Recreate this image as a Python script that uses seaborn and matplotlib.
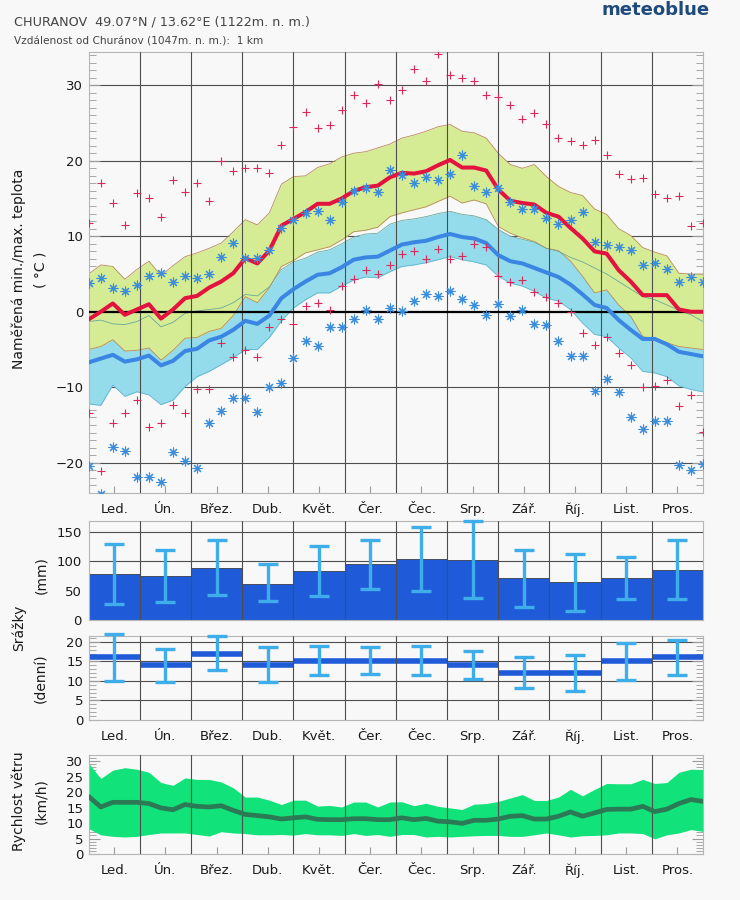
import numpy as np
import seaborn as sns
import matplotlib.pyplot as plt
from matplotlib.ticker import MultipleLocator

sns.set_style("ticks")
plt.rcParams['font.family'] = ['DejaVu Sans']

months = ["Led.", "Ún.", "Břez.", "Dub.", "Květ.", "Čer.", "Čec.", "Srp.", "Zář.", "Říj.", "List.", "Pros."]
weeks = np.arange(52)

# weekly temperatures (°C)
max_mean = [-1.0, 0.0, 1.1, -0.4, 0.3, 1.0, -0.9, 0.3, 1.8, 2.1, 3.2, 4.0, 5.1, 7.1, 6.4, 8.1,
            11.4, 12.3, 13.2, 14.3, 14.3, 15.0, 16.0, 16.5, 16.7, 17.8, 18.4, 18.3, 18.6, 19.4,
            20.1, 19.1, 19.1, 18.7, 16.2, 14.7, 14.4, 14.2, 13.1, 12.6, 11.1, 9.7, 8.0, 7.7,
            5.5, 4.0, 2.2, 2.2, 2.2, 0.3, 0.0, 0.0]
max_upper = [5.0, 6.2, 6.0, 4.3, 5.6, 6.7, 4.8, 6.1, 7.3, 7.8, 8.4, 9.1, 10.6, 12.2, 11.5, 13.1,
             16.9, 17.9, 18.0, 19.1, 19.6, 20.5, 21.0, 21.2, 21.7, 22.2, 23.0, 23.4, 23.9, 24.5,
             24.8, 23.9, 23.7, 23.0, 21.0, 19.5, 19.0, 19.5, 17.9, 16.6, 15.8, 15.4, 13.6, 12.9,
             11.0, 10.1, 8.5, 7.9, 7.4, 5.1, 5.0, 5.0]
max_lower = [-5.0, -4.6, -3.7, -5.2, -5.1, -4.8, -6.4, -5.1, -3.5, -3.4, -2.6, -2.2, -0.5, 2.0, 1.2, 3.2,
             6.0, 6.8, 7.8, 8.2, 8.6, 9.5, 10.6, 10.8, 11.2, 12.6, 13.1, 13.5, 13.9, 14.6,
             15.3, 14.4, 14.8, 14.3, 11.3, 10.4, 9.8, 9.3, 8.4, 8.1, 6.7, 4.7, 2.5, 2.9,
             0.9, -0.6, -3.3, -3.6, -4.1, -4.6, -4.8, -5.0]
min_mean = [-6.7, -6.2, -5.7, -6.6, -6.3, -5.8, -7.1, -6.5, -5.2, -4.9, -3.8, -3.3, -2.4, -1.2, -1.6, -0.5,
            1.8, 3.0, 4.0, 4.9, 5.1, 5.9, 6.9, 7.2, 7.3, 8.1, 8.9, 9.2, 9.4, 9.9,
            10.3, 9.9, 9.7, 9.1, 7.5, 6.7, 6.4, 5.8, 5.2, 4.6, 3.6, 2.3, 0.9, 0.5,
            -1.1, -2.4, -3.6, -3.6, -4.3, -5.3, -5.6, -5.9]
min_upper = [-1.3, -1.1, -1.6, -1.7, -1.3, -0.5, -2.0, -1.4, -0.2, 0.1, 0.3, 0.5, 1.2, 2.3, 2.1, 3.3,
             5.6, 6.6, 7.1, 7.9, 8.2, 9.0, 9.9, 10.3, 10.4, 11.6, 12.1, 12.3, 12.6, 13.0,
             13.3, 12.9, 12.7, 12.2, 10.9, 10.0, 9.6, 9.2, 8.4, 8.0, 7.2, 6.6, 5.8, 5.0,
             4.0, 3.0, 2.0, 1.6, 0.9, 0.2, -0.4, -1.3]
min_lower = [-12.2, -12.4, -9.7, -11.2, -10.6, -11.0, -12.3, -11.7, -9.9, -8.6, -7.9, -7.0, -6.1, -5.0, -5.0, -3.4,
             -1.2, 0.5, 1.6, 2.5, 2.5, 3.4, 4.2, 4.6, 4.5, 5.3, 6.0, 6.2, 6.5, 6.9,
             7.3, 6.9, 6.6, 6.2, 4.7, 3.8, 3.4, 2.7, 1.8, 1.4, 0.3, -1.5, -3.0, -3.3,
             -4.8, -6.1, -7.9, -8.1, -8.6, -9.8, -10.3, -10.6]
# extremes
max_hi = [11.8, 17.0, 14.4, 11.5, 15.7, 15.1, 12.5, 17.5, 15.9, 17.1, 14.7, 19.9, 18.6, 19.0, 19.0, 18.4,
          22.1, 24.5, 26.4, 24.3, 24.7, 26.7, 28.7, 27.7, 30.1, 28.0, 29.4, 32.2, 30.6, 34.2,
          31.3, 30.9, 30.6, 28.7, 28.4, 27.4, 25.5, 26.3, 24.9, 23.0, 22.6, 22.1, 22.8, 20.7,
          18.3, 17.6, 17.7, 15.6, 15.0, 15.3, 11.3, 11.8]
max_lo = [-13.4, -21.1, -14.7, -13.4, -11.7, -15.2, -14.7, -12.3, -13.4, -10.2, -10.2, -4.2, -6.0, -5.0, -6.0, -2.0,
          -1.0, -1.6, 0.8, 1.2, 0.3, 3.4, 4.3, 5.5, 5.0, 6.2, 7.7, 8.1, 7.0, 8.3,
          7.0, 7.4, 9.0, 8.6, 4.7, 3.9, 4.2, 2.6, 1.9, 1.2, 0.0, -2.8, -4.4, -3.3,
          -5.4, -7.0, -10.0, -9.8, -9.1, -12.5, -11.0, -15.9]
min_hi = [3.8, 4.5, 3.2, 2.8, 3.6, 4.7, 5.1, 3.9, 4.8, 4.5, 5.0, 7.3, 9.1, 7.1, 7.1, 8.2,
          11.1, 12.1, 13.1, 13.4, 12.1, 14.6, 16.0, 16.4, 15.9, 18.8, 18.1, 17.0, 17.8, 17.5,
          18.3, 20.7, 16.7, 15.9, 16.4, 14.5, 13.6, 13.6, 12.4, 11.6, 12.2, 13.2, 9.3, 8.9,
          8.6, 8.2, 6.2, 6.4, 5.7, 4.0, 4.6, 3.9]
min_lo = [-20.4, -24.1, -17.9, -18.5, -21.9, -21.9, -22.6, -18.6, -19.7, -20.7, -14.7, -13.1, -11.4, -11.4, -13.3, -10.0,
          -9.4, -6.1, -3.9, -4.5, -2.0, -2.0, -1.0, 0.2, -1.0, 0.5, 0.1, 1.4, 2.4, 2.1,
          2.8, 1.7, 0.9, -0.4, 1.0, -0.6, 0.3, -1.6, -1.8, -3.9, -5.8, -5.8, -10.5, -8.9,
          -10.6, -13.9, -15.5, -14.5, -14.5, -20.3, -20.9, -20.2]

# monthly precipitation (mm)
precip = [78, 75, 89, 62, 83, 95, 104, 102, 71, 65, 71, 85]
precip_hi = [130, 119, 137, 95, 126, 137, 158, 168, 119, 113, 107, 137]
precip_lo = [27, 31, 43, 32, 41, 52, 50, 37, 22, 16, 36, 35]

# wet days per month
wet_days = [16, 14, 17, 14, 15, 15, 15, 14, 12, 12, 15, 16]
wet_hi = [22.0, 18.2, 21.4, 18.6, 18.9, 18.6, 18.9, 17.6, 16.1, 16.6, 19.8, 20.6]
wet_lo = [10.1, 9.8, 12.7, 9.6, 11.4, 11.8, 11.4, 10.5, 8.1, 7.5, 10.3, 11.5]

# weekly wind speed (km/h)
wind_mean = [18.6, 15.2, 16.7, 16.7, 16.7, 16.3, 14.9, 14.3, 16.0, 15.4, 15.2, 15.6, 14.1, 12.8, 12.4, 12.0,
             11.3, 11.7, 12.0, 11.2, 11.1, 11.1, 11.4, 11.4, 11.1, 11.1, 11.7, 11.1, 11.5, 10.6,
             10.4, 9.9, 10.9, 10.9, 11.3, 12.2, 12.4, 11.3, 11.3, 12.2, 13.6, 12.2, 13.3, 14.4,
             14.5, 14.5, 15.4, 13.7, 14.5, 16.3, 17.6, 17.0]
wind_hi = [29.3, 24.4, 27.1, 27.9, 27.4, 26.4, 23.1, 22.2, 24.6, 24.1, 24.1, 23.3, 21.4, 18.4, 18.4, 17.4,
           16.0, 17.4, 17.4, 15.5, 15.7, 15.2, 16.8, 16.8, 15.2, 16.8, 16.9, 15.6, 16.4, 15.4,
           14.9, 14.4, 16.1, 16.3, 17.0, 18.1, 19.2, 17.3, 17.3, 18.4, 20.9, 18.8, 20.9, 22.8,
           22.7, 22.7, 24.1, 22.8, 23.1, 26.4, 27.4, 27.3]
wind_lo = [8.2, 6.2, 5.7, 5.5, 5.7, 6.3, 6.8, 6.8, 6.8, 6.3, 5.8, 7.2, 6.8, 6.6, 6.2, 6.2,
           6.3, 6.1, 6.6, 6.2, 6.2, 6.0, 6.6, 6.0, 6.3, 5.7, 6.3, 6.3, 5.5, 5.7,
           5.5, 5.7, 5.9, 6.0, 6.0, 5.7, 5.7, 6.2, 6.8, 6.2, 5.5, 5.9, 6.0, 6.2,
           6.8, 6.8, 6.6, 4.9, 6.2, 6.8, 7.9, 7.3]

bg = "#f8f8f8"
grid_c = "#4d4d4d"
tick_c = "#9a9a9a"

fig = plt.figure(figsize=(7.4, 9.0), dpi=100, facecolor=bg)
L, W = 88.7 / 740, 614.3 / 740
ax_t = fig.add_axes([L, 1 - 493 / 900, W, 441 / 900])
ax_p = fig.add_axes([L, 1 - 620 / 900, W, 99 / 900])
ax_w = fig.add_axes([L, 1 - 720 / 900, W, 84 / 900])
ax_v = fig.add_axes([L, 1 - 854 / 900, W, 99 / 900])

wk = 51 / 12  # weeks per month on the weekly axis
wk_bounds = [k * wk for k in range(1, 12)]
wk_centres = [k * wk + wk / 2 for k in range(12)]
mo_bounds = [k + 0.5 for k in range(11)]

for ax in (ax_t, ax_p, ax_w, ax_v):
    ax.set_facecolor(bg)
    for s in ax.spines.values():
        s.set_color("#b5b5b5")
        s.set_linewidth(0.8)
    ax.tick_params(labelsize=9.5, labelcolor="#1a1a1a")

# --- temperature
ax = ax_t
for v in [-20, -10, 10, 20, 30]:
    ax.axhline(v, color=grid_c, lw=0.8, zorder=0.5)
ax.fill_between(weeks, min_lower, min_upper, color="#94dcec", lw=0, zorder=1)
ax.plot(weeks, min_lower, color="#62b4cf", lw=0.6, zorder=1.1)
ax.fill_between(weeks, max_lower, max_upper, color="#d6ec94", lw=0, zorder=2)
ax.plot(weeks, max_upper, color="#b88a5c", lw=0.6, zorder=2.1)
ax.plot(weeks, max_lower, color="#b88a5c", lw=0.6, zorder=2.1)
ax.plot(weeks, min_upper, color="#6aa89a", lw=0.6, zorder=2.2)
for x in wk_bounds:
    ax.axvline(x, color=grid_c, lw=0.8, zorder=3)
ax.axhline(0, color="black", lw=1.6, zorder=4)
sns.lineplot(x=weeks, y=min_mean, color="#3a86e2", lw=2.9, ax=ax, zorder=5)
sns.lineplot(x=weeks, y=max_mean, color="#e3123f", lw=2.9, ax=ax, zorder=5)
sns.scatterplot(x=weeks, y=max_hi, marker="+", s=40, color="#d9285a", linewidth=0.8, ax=ax, zorder=6)
sns.scatterplot(x=weeks, y=max_lo, marker="+", s=40, color="#d9285a", linewidth=0.8, ax=ax, zorder=6)
sns.scatterplot(x=weeks, y=min_hi, marker=(8, 2, 0), s=42, color="#3a8ddb", linewidth=0.8, ax=ax, zorder=6)
sns.scatterplot(x=weeks, y=min_lo, marker=(8, 2, 0), s=42, color="#3a8ddb", linewidth=0.8, ax=ax, zorder=6)
ax.set_xlim(0, 51)
ax.set_ylim(-24, 34.4)
ax.set_yticks([-20, -10, 0, 10, 20, 30])
ax.yaxis.set_minor_locator(MultipleLocator(1))
ax.tick_params(axis="y", which="both", direction="in", left=True, right=True, color=tick_c, pad=4)
ax.tick_params(axis="y", which="major", length=8)
ax.tick_params(axis="y", which="minor", length=5)
ax.set_xticks(wk_centres)
ax.set_xticklabels(months)
ax.tick_params(axis="x", direction="in", length=5, color=tick_c, pad=7)
ax.set_xlabel("")
ax.set_ylabel("")

# --- precipitation
ax = ax_p
for v in [50, 100, 150]:
    ax.axhline(v, color=grid_c, lw=0.8, zorder=0.5)
sns.barplot(x=months, y=precip, color="#1f5bd8", width=1.0, saturation=1, errorbar=None,
            edgecolor="#2a2a2a", linewidth=0.5, ax=ax, zorder=2)
pos = np.arange(12)
ax.errorbar(pos, precip, yerr=[np.subtract(precip, precip_lo), np.subtract(precip_hi, precip)],
            fmt="none", ecolor="#3eaeea", elinewidth=2.4, capsize=7, capthick=2.4, zorder=4, clip_on=False)
for x in mo_bounds:
    ax.axvline(x, color=grid_c, lw=0.8, zorder=3)
ax.set_xlim(-0.5, 11.5)
ax.set_ylim(0, 168.5)
ax.set_yticks([0, 50, 100, 150])
ax.tick_params(axis="y", length=0, pad=5)
ax.tick_params(axis="x", length=0, labelbottom=False)
ax.set_xlabel("")
ax.set_ylabel("")

# --- wet days
ax = ax_w
for v in [5, 10, 15, 20]:
    ax.axhline(v, color=grid_c, lw=0.8, zorder=0.5)
ax.hlines(wet_days, pos - 0.5, pos + 0.5, color="#1f5bd8", lw=4, zorder=2)
ax.errorbar(pos, wet_days, yerr=[np.subtract(wet_days, wet_lo), np.subtract(wet_hi, wet_days)],
            fmt="none", ecolor="#3eaeea", elinewidth=2.4, capsize=7, capthick=2.4, zorder=4, clip_on=False)
for x in mo_bounds:
    ax.axvline(x, color=grid_c, lw=0.8, zorder=3)
ax.set_xlim(-0.5, 11.5)
ax.set_ylim(0, 21.5)
ax.set_yticks([0, 5, 10, 15, 20])
ax.yaxis.set_minor_locator(MultipleLocator(1))
ax.tick_params(axis="y", which="both", direction="in", left=True, right=True, color=tick_c, pad=4)
ax.tick_params(axis="y", which="major", length=8)
ax.tick_params(axis="y", which="minor", length=5)
ax.set_xticks(pos)
ax.set_xticklabels(months)
ax.tick_params(axis="x", direction="in", length=0, pad=7)

# --- wind
ax = ax_v
ax.fill_between(weeks, wind_lo, wind_hi, color="#12e27a", lw=0, zorder=1)
sns.lineplot(x=weeks, y=wind_mean, color="#2b7a55", lw=3.4, ax=ax, zorder=4)
for x in wk_bounds:
    ax.axvline(x, color=grid_c, lw=0.8, zorder=3)
ax.set_xlim(0, 51)
ax.set_ylim(0, 32)
ax.set_yticks([0, 5, 10, 15, 20, 25, 30])
ax.yaxis.set_minor_locator(MultipleLocator(1))
ax.tick_params(axis="y", which="both", direction="in", left=True, right=True, color=tick_c, pad=4)
ax.tick_params(axis="y", which="major", length=8)
ax.tick_params(axis="y", which="minor", length=5)
ax.set_xticks(wk_centres)
ax.set_xticklabels(months)
ax.tick_params(axis="x", direction="in", length=5, color=tick_c, pad=7)
ax.set_xlabel("")
ax.set_ylabel("")

# --- texts
fig.text(14 / 740, 1 - 22 / 900, "CHURANOV  49.07°N / 13.62°E (1122m. n. m.)",
         fontsize=9.2, color="#444444", va="center")
fig.text(14 / 740, 1 - 41 / 900, "Vzdálenost od Churánov (1047m. n. m.):  1 km",
         fontsize=7.6, color="#444444", va="center")
fig.text(710 / 740, 1 - 10 / 900, "meteoblue", fontsize=13, fontweight="bold",
         color="#1f4a7c", ha="right", va="center")

lab = dict(rotation=90, ha="center", va="center", fontsize=10, color="#1a1a1a")
fig.text(19 / 740, 1 - 269 / 900, "Naměřená min./max. teplota", **lab)
fig.text(41 / 740, 1 - 270 / 900, "( °C )", **lab)
fig.text(19 / 740, 1 - 628 / 900, "Srážky", **lab)
fig.text(41 / 740, 1 - 575 / 900, "(mm)", **lab)
fig.text(41 / 740, 1 - 678 / 900, "(denní)", **lab)
fig.text(19 / 740, 1 - 801 / 900, "Rychlost větru", **lab)
fig.text(41 / 740, 1 - 801 / 900, "(km/h)", **lab)

fig.savefig("out.png", dpi=100, facecolor=bg)
